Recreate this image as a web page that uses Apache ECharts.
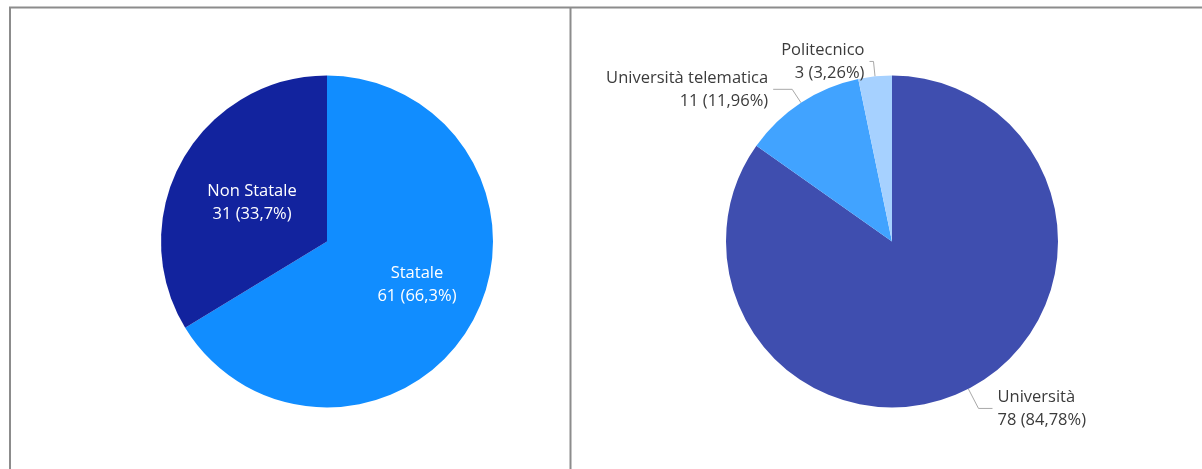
<!DOCTYPE html>
<html>
<head>
<meta charset="utf-8">
<script src="https://cdn.jsdelivr.net/npm/echarts@6/dist/echarts.min.js"></script>
<style>
  html, body { margin: 0; padding: 0; background: #ffffff; }
  #chart { width: 1202px; height: 469px; }
</style>
</head>
<body>
<div id="chart"></div>
<script>
// Atenei per tipologia di gestione
const gestioneNames = ['Statale', 'Non Statale'];
const gestioneValues = [61, 31];
const gestioneColors = ['#118DFF', '#12239E'];

// Atenei per tipologia di istituto
const istitutoNames = ['Università', 'Università telematica', 'Politecnico'];
const istitutoValues = [78, 11, 3];
const istitutoColors = ['#3F4EAF', '#41A3FF', '#A6D1FF'];

const FONT = '"Open Sans", "Noto Sans", sans-serif';

// leader-line lengths for each outer label (radial segment, horizontal segment)
const istitutoLeader = [[22, 14], [16, 19], [15, 4]];

function pctText(values, idx, decimals) {
  const total = values.reduce((a, b) => a + b, 0);
  return (values[idx] / total * 100).toFixed(decimals).replace('.', ',');
}

function buildData(names, values, colors, leader) {
  return names.map((n, i) => {
    const item = { name: n, value: values[i], itemStyle: { color: colors[i] } };
    if (leader) item.labelLine = { length: leader[i][0], length2: leader[i][1] };
    return item;
  });
}

const chart = echarts.init(document.getElementById('chart'), null, { renderer: 'canvas' });

chart.setOption({
  animation: false,
  backgroundColor: '#ffffff',
  graphic: [
    { type: 'line', shape: { x1: 9, y1: 7.5, x2: 1202, y2: 7.5 }, style: { stroke: '#8c8c8c', lineWidth: 2 } },
    { type: 'line', shape: { x1: 10, y1: 7, x2: 10, y2: 469 }, style: { stroke: '#8c8c8c', lineWidth: 2 } },
    { type: 'line', shape: { x1: 570.5, y1: 7, x2: 570.5, y2: 469 }, style: { stroke: '#8c8c8c', lineWidth: 2 } }
  ],
  series: [
    {
      type: 'pie',
      center: [327, 241.5],
      radius: 166,
      startAngle: 90,
      clockwise: true,
      silent: true,
      data: buildData(gestioneNames, gestioneValues, gestioneColors),
      label: {
        show: true,
        position: 'inside',
        color: '#ffffff',
        fontFamily: FONT,
        fontSize: 16.5,
        lineHeight: 23,
        formatter: p => p.name + '\n' + p.value + ' (' + pctText(gestioneValues, p.dataIndex, 1) + '%)'
      },
      labelLayout: p => (p.dataIndex === 0 ? { dx: 15, dy: 1 } : { dx: 0, dy: 3 }),
      labelLine: { show: false }
    },
    {
      type: 'pie',
      center: [892, 241.5],
      radius: 166,
      startAngle: 90,
      clockwise: true,
      silent: true,
      avoidLabelOverlap: false,
      data: buildData(istitutoNames, istitutoValues, istitutoColors, istitutoLeader),
      label: {
        show: true,
        position: 'outside',
        alignTo: 'none',
        distanceToLabelLine: 5,
        color: '#3b3b3b',
        fontFamily: FONT,
        fontSize: 16.5,
        lineHeight: 23,
        formatter: p => p.name + '\n' + p.value + ' (' + pctText(istitutoValues, p.dataIndex, 2) + '%)'
      },
      labelLine: {
        show: true,
        lineStyle: { color: '#a8a8a8', width: 1 }
      }
    }
  ]
});
</script>
</body>
</html>
